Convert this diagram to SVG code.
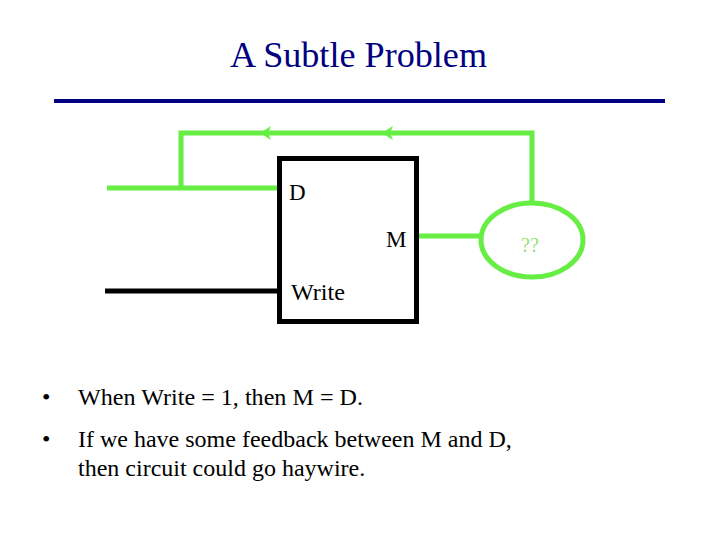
<svg xmlns="http://www.w3.org/2000/svg" width="720" height="540" viewBox="0 0 720 540">
<style>
text{font-family:"Liberation Serif","Times New Roman",serif}
.g{stroke:#66ee44;stroke-width:5;fill:none}
.lbl{font-size:23px;fill:#000}
.bul{font-size:24px;fill:#000}
</style>
<rect width="720" height="540" fill="#fff"/>
<g id="title">
<text x="230" y="67" font-size="35" fill="#000080" textLength="257" lengthAdjust="spacingAndGlyphs">A Subtle Problem</text>
<line x1="54" y1="101" x2="665" y2="101" stroke="#000080" stroke-width="4"/>
</g>
<g id="connectors">
<polyline class="g" points="532,203 532,133 181,133 181,188"/>
<line class="g" x1="107" y1="188" x2="278" y2="188"/>
<line class="g" x1="418" y1="236" x2="481" y2="236"/>
<line x1="105" y1="291" x2="278" y2="291" stroke="#000" stroke-width="5"/>
<path d="M260,133 L271,126 L268,133 L271,140 Z" fill="#66ee44"/>
<path d="M382,133 L393,126 L390,133 L393,140 Z" fill="#66ee44"/>
</g>
<g id="memory">
<rect x="279.5" y="158.5" width="137" height="163" fill="#fff" stroke="#000" stroke-width="5"/>
<text class="lbl" x="289" y="200">D</text>
<text class="lbl" x="386" y="247">M</text>
<text class="lbl" x="291" y="300" textLength="54" lengthAdjust="spacingAndGlyphs">Write</text>
</g>
<g id="unknown">
<ellipse cx="532" cy="240" rx="51" ry="37" class="g" style="fill:#fff"/>
<text x="530" y="252" text-anchor="middle" font-size="20" fill="#99dd77">??</text>
</g>
<g id="bullets">
<text class="bul" x="42" y="405">•</text>
<text class="bul" x="78" y="405" textLength="285" lengthAdjust="spacingAndGlyphs">When Write = 1, then M = D.</text>
<text class="bul" x="42" y="447">•</text>
<text class="bul" x="78" y="447">If we have some feedback between M and D,</text>
<text class="bul" x="78" y="476">then circuit could go haywire.</text>
</g>
</svg>
